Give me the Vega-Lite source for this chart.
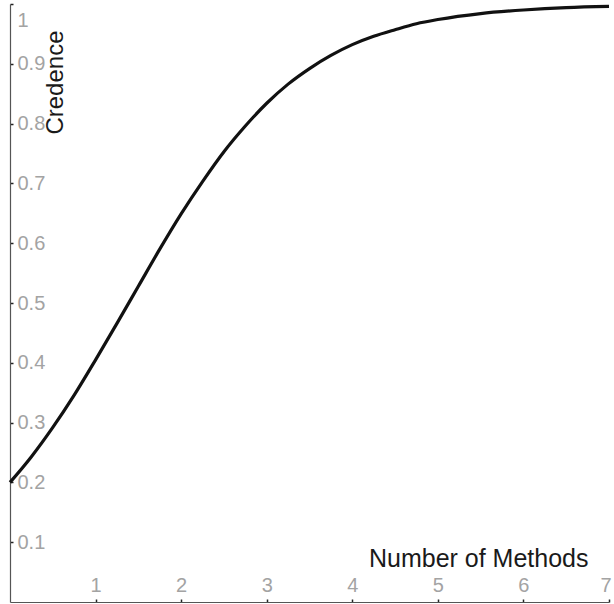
{
  "$schema": "https://vega.github.io/schema/vega-lite/v6.json",
  "autosize": "none",
  "width": 599,
  "height": 598,
  "padding": {"left": 10, "top": 4, "right": 5, "bottom": 2},
  "background": "white",
  "config": {
    "view": {"stroke": null},
    "font": "Liberation Sans",
    "axis": {
      "grid": false,
      "domainColor": "#555555",
      "domainWidth": 1.2,
      "tickColor": "#222222",
      "tickWidth": 1.5,
      "tickSize": -3,
      "labelColor": "#a3a3a3",
      "labelFont": "Liberation Sans",
      "labelFontSize": 20,
      "titleFont": "Liberation Sans",
      "titleFontSize": 24,
      "titleFontWeight": "normal",
      "titleColor": "#1a1a1a"
    }
  },
  "data": {
    "values": [
      {"methods": 0, "credence": 0.2},
      {"methods": 0.25, "credence": 0.243},
      {"methods": 0.5, "credence": 0.292},
      {"methods": 0.75, "credence": 0.346},
      {"methods": 1, "credence": 0.405},
      {"methods": 1.25, "credence": 0.466},
      {"methods": 1.5, "credence": 0.528},
      {"methods": 1.75, "credence": 0.59},
      {"methods": 2, "credence": 0.649},
      {"methods": 2.25, "credence": 0.703},
      {"methods": 2.5, "credence": 0.753},
      {"methods": 2.75, "credence": 0.796},
      {"methods": 3, "credence": 0.834},
      {"methods": 3.25, "credence": 0.866},
      {"methods": 3.5, "credence": 0.892},
      {"methods": 3.75, "credence": 0.914},
      {"methods": 4, "credence": 0.932},
      {"methods": 4.25, "credence": 0.946},
      {"methods": 4.5, "credence": 0.957},
      {"methods": 4.75, "credence": 0.967},
      {"methods": 5, "credence": 0.974},
      {"methods": 5.5, "credence": 0.984},
      {"methods": 6, "credence": 0.99},
      {"methods": 6.5, "credence": 0.994},
      {"methods": 7, "credence": 0.996}
    ]
  },
  "mark": {"type": "line", "interpolate": "monotone", "color": "#111111", "strokeWidth": 3.2},
  "encoding": {
    "x": {
      "field": "methods",
      "type": "quantitative",
      "scale": {"domain": [0, 7], "nice": false, "zero": false},
      "axis": {
        "values": [1, 2, 3, 4, 5, 6, 7],
        "title": "Number of Methods",
        "titleFontSize": 25,
        "labelFlush": true,
        "labelBaseline": "alphabetic",
        "labelPadding": -8,
        "labelFlushOffset": 2,
        "titleAnchor": null,
        "titleX": 578,
        "titleY": -36,
        "titleAlign": "right",
        "titleBaseline": "alphabetic"
      }
    },
    "y": {
      "field": "credence",
      "type": "quantitative",
      "scale": {"domain": [0, 1], "nice": false, "zero": false},
      "axis": {
        "values": [0.1, 0.2, 0.3, 0.4, 0.5, 0.6, 0.7, 0.8, 0.9, 1],
        "labelExpr": "datum.value == 1 ? '1' : format(datum.value, '.1f')",
        "title": "Credence",
        "labelFlush": false,
        "labelAlign": "left",
        "labelBaseline": "middle",
        "labelPadding": -4,
        "labelOffset": {"condition": {"test": "datum.value == 1", "value": 16}, "value": 0},
        "titleAngle": -90,
        "titleX": 52,
        "titleY": 26,
        "titleAlign": "right",
        "titleBaseline": "alphabetic"
      }
    }
  }
}
